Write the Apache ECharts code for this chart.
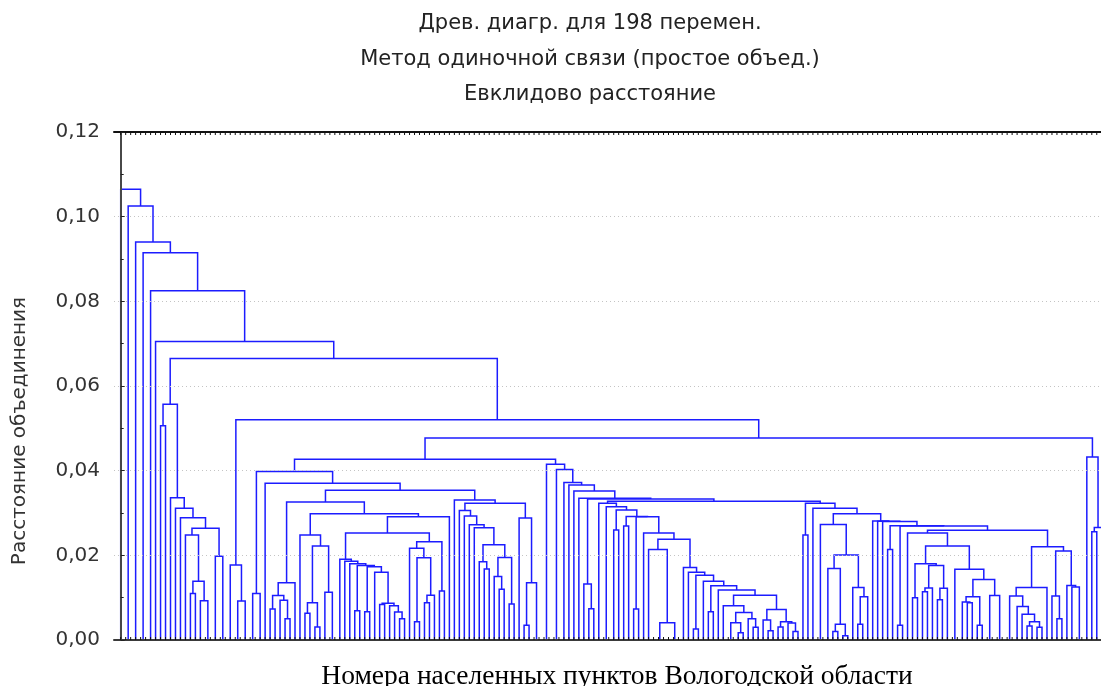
<!DOCTYPE html>
<html>
<head>
<meta charset="utf-8">
<script src="https://cdn.jsdelivr.net/npm/echarts@6/dist/echarts.min.js"></script>
<style>
  html, body { margin: 0; padding: 0; background: #fff; }
  #chart { width: 1101px; height: 686px; }
</style>
</head>
<body>
<div id="chart"></div>
<script>
// Single-linkage dendrogram of 198 settlements, Euclidean distance.
// A join is [distance, left, right]; a leaf is the number of settlements
// that coincide exactly (joined at distance 0).

// Staircase: each step joins one leaf (a height, or [height, leafSize]) to the rest.
function chain(steps, tail) {
  return steps.reduceRight((acc, s) => Array.isArray(s) ? [s[0], s[1], acc] : [s, 1, acc], tail);
}

const outlierSteps = [0.1065, [0.1025, 2], 0.094, [0.0915, 2], 0.0825, 0.0705];

const groupA = [0.0557, [0.0506, 1, 1],
  chain([0.0336, 0.0311, 0.0289],
    [0.0264, [0.0248, 1, [0.0139, [0.011, 1, 1], [0.0093, 1, 2]]], [0.0198, 1, 2]])];

const groupB = [0.0177, 1, [0.0092, 2, 1]];

const group135 = [0.0135, [0.0105, [0.0073, 1, 1], [0.0094, 1, [0.005, 1, 1]]], 1];
const group248 = [0.0248, 1, [0.0222, [0.0088, [0.0063, 1, 1], [0.0031, 1, 1]], [0.0113, 1, 2]]];
const group191 = [0.0191, 1, [0.0186, 1, [0.018, 1, [0.0176, [0.0069, 1, 1],
  [0.0173, [0.0067, 1, 1], [0.016, 1, [0.0087, [0.0084, 1, 1], [0.0081, 1, [0.0066, 1, [0.005, 1, 1]]]]]]]]]];
const group232 = [0.0232, [0.0217, 1, [0.0194, [0.0043, 1, 1], [0.0106, [0.0088, 1, 1], 1]]], [0.0116, 1, 1]];
const group291 = [0.0291, [0.0253, group191, group232], 1];
const group326 = [0.0326, group135, [0.0298, group248, group291]];
const group465 = chain([0.0306, 0.0293, 0.0272, 0.0265],
  [0.0225, [0.0185, 1, [0.0168, 1, 1]], [0.0195, [0.015, 1, [0.012, 1, 1]], [0.0085, 1, 1]]]);
const group288 = [0.0288, 1, [0.0135, [0.0035, 1, 1], 2]];
const group331 = [0.0331, 1, [0.0323, group465, group288]];
const groupC = [0.0398, [0.011, 2, 1], [0.037, 1, [0.0354, group326, group331]]];

const group132 = [0.0132, 1, [0.0074, 1, 1]];
const groupF = [0.0081, 1, [0.0065, [0.0041, 2, [0.0017, 1, 1]], [0.005, 1, [0.003, 1, 1]]]];
const groupG = [0.0072, [0.0047, 1, [0.0022, 1, 1]], [0.0043, [0.0031, 1, 1], [0.004, 1, [0.002, 1, 1]]]];
const group171 = chain([0.0171, 0.016],
  [0.0153, [0.0026, 1, 1], [0.0139, 1, [0.0128, [0.0067, 1, 1], [0.0118, 1, [0.0106, groupF, groupG]]]]]);
const group214 = [0.0214, 1, [0.0041, 3, 3]];
const group253 = [0.0253, 1, [0.0238, group214, group171]];
const groupZ = chain([0.0323, [0.0315, 2]],
  [0.0307, [0.026, 1, 1], [0.0292, [0.0269, 1, 1], [0.0291, [0.0073, 1, 1], group253]]]);

const group273 = [0.0273, 2, [0.0201, [0.0169, 1, [0.0037, [0.002, 1, 1], [0.001, 1, 1]]],
  [0.0124, 1, [0.0102, [0.0037, 1, 1], 1]]]];
const group180 = [0.018, [0.01, 1, 1], [0.0176, [0.0123, [0.0114, 1, 1], 1], [0.0122, [0.0095, 1, 1], 1]]];
const group167 = [0.0167, 2, [0.0143, [0.0102, [0.009, 1, [0.0088, 1, 1]], [0.0035, 1, 1]], [0.0105, 2, 2]]];
const groupR1 = [0.0124, [0.0104, 2, [0.0079, 1, [0.0061, 1, [0.0043, [0.0033, 1, 1], [0.003, 1, 1]]]]], 1];
const groupR2 = [0.021, [0.0104, 1, [0.005, 1, 1]], [0.0129, 1, [0.0125, 1, 2]]];
const groupP = [0.0259, [0.0253, 1, [0.0222, group180, group167]], [0.022, groupR1, groupR2]];
const group281 = chain([0.0281, 0.02805, 0.028],
  [0.027, [0.0214, 1, 1], [0.0269, [0.0035, 1, 1], groupP]]);
const groupW = [0.0323, [0.0248, 1, 1], [0.0311, 1, [0.0298, group273, group281]]];

const groupD = chain([[0.0415, 2], [0.0403, 2], 0.0372, 0.0366, 0.0352],
  [0.0335, 1, [0.0333, group132, [0.0328, groupZ, groupW]]]);
const groupE = [0.0432, 1, [0.0266, [0.0256, 1, 1], 1]];

const tree = chain(outlierSteps,
  [0.0665, groupA, [0.052, groupB, [0.0477, [0.0427, groupC, groupD], groupE]]]);

const yTicks = [0, 0.02, 0.04, 0.06, 0.08, 0.10, 0.12];
const titleLines = ['Древ. диагр. для 198 перемен.', 'Метод одиночной связи (простое объед.)', 'Евклидово расстояние'];
const yTitle = 'Расстояние объединения';
const xTitle = 'Номера населенных пунктов Вологодской области';

// ---- layout: leaves in tree order, one slot per settlement; each join sits above the middle of its branches
const links = [];
const leafSlots = [];
(function () {
  let next = 0;
  function placeLeaf(n) {
    // coinciding settlements: joined pairwise at distance 0
    let cur = { x: next, h: 0 };
    leafSlots.push(next++);
    for (let i = 1; i < n; i++) {
      const x = next++;
      leafSlots.push(x);
      links.push([cur.x, 0, x, 0, 0]);
      cur = { x: (cur.x + x) / 2, h: 0 };
    }
    return cur;
  }
  function visit(n) {
    if (!Array.isArray(n)) return placeLeaf(n);
    const l = visit(n[1]), r = visit(n[2]);
    links.push([l.x, l.h, r.x, r.h, n[0]]);
    return { x: (l.x + r.x) / 2, h: n[0] };
  }
  visit(tree);
})();

// the plot runs on past the right edge of the page; the last settlements fall outside it
const gridLeft = 114, gridTop = 132, gridHeight = 508, gridRight = 0;
const gridWidth = 1101 - gridLeft - gridRight;
const pxPerLeaf = 4.98, firstLeafPx = 120.7;
const xMin = -(firstLeafPx - gridLeft) / pxPerLeaf;
const xMax = xMin + gridWidth / pxPerLeaf;
const sans = '"DejaVu Sans"';

const chart = echarts.init(document.getElementById('chart'), null, { renderer: 'canvas' });
chart.setOption({
  animation: false,
  backgroundColor: '#ffffff',
  grid: { left: gridLeft, top: gridTop, right: gridRight, height: gridHeight, containLabel: false },
  xAxis: [
    { type: 'value', min: xMin, max: xMax, position: 'bottom', z: 5,
      axisLine: { show: true, lineStyle: { color: '#3a3a3a', width: 2 } },
      axisTick: { show: false }, axisLabel: { show: false }, splitLine: { show: false } },
    { type: 'value', min: xMin, max: xMax, position: 'top', z: 5,
      axisLine: { show: true, lineStyle: { color: '#111', width: 2 } },
      axisTick: { show: false }, axisLabel: { show: false }, splitLine: { show: false } }
  ],
  yAxis: {
    type: 'value', min: yTicks[0], max: yTicks[yTicks.length - 1], interval: 0.02, z: 5,
    axisLine: { show: true, lineStyle: { color: '#484848', width: 2 } },
    axisTick: { show: true, inside: true, length: 4, lineStyle: { color: '#222' } },
    minorTick: { show: true, splitNumber: 2, length: 3, lineStyle: { color: '#222' } },
    axisLabel: { margin: 14, color: '#333', fontFamily: 'DejaVu Sans', fontSize: 20,
      formatter: v => v.toFixed(2).replace('.', ',') },
    splitLine: { show: true, lineStyle: { color: '#c4c4c4', type: [1, 3], width: 1 } }
  },
  graphic: [
    ...titleLines.map((t, i) => ({ type: 'text', x: 590, y: 24 + i * 35.5,
      style: { text: t, fill: '#222', font: '21px ' + sans, textAlign: 'center', textVerticalAlign: 'middle' } })),
    { type: 'text', x: 20, y: 431, rotation: Math.PI / 2,
      style: { text: yTitle, fill: '#333', font: '20px ' + sans, textAlign: 'center', textVerticalAlign: 'middle' } },
    { type: 'text', x: 617, y: 677,
      style: { text: xTitle, fill: '#000', font: '27.5px "Liberation Serif"', textAlign: 'center', textVerticalAlign: 'middle' } }
  ],
  series: [
    {
      type: 'custom', name: 'links', xAxisIndex: 0, yAxisIndex: 0,
      data: links, encode: { x: [0, 2], y: [1, 3, 4] }, clip: false,
      renderItem: (params, api) => {
        const a = api.coord([api.value(0), api.value(1)]);
        const b = api.coord([api.value(0), api.value(4)]);
        const c = api.coord([api.value(2), api.value(4)]);
        const d = api.coord([api.value(2), api.value(3)]);
        return { type: 'polyline', shape: { points: [a, b, c, d] },
          style: { stroke: '#1c1cff', lineWidth: 1.5, fill: null } };
      }
    },
    {
      type: 'custom', name: 'leafTicks', xAxisIndex: 0, yAxisIndex: 0,
      data: leafSlots.map(x => [x]), encode: { x: 0 }, clip: false, z: 6,
      renderItem: (params, api) => {
        const p0 = api.coord([api.value(0), yTicks[0]]);
        const pt = api.coord([api.value(0), yTicks[yTicks.length - 1]]);
        return { type: 'group', children: [
          { type: 'line', shape: { x1: p0[0], y1: p0[1], x2: p0[0], y2: p0[1] - 3 }, style: { stroke: '#111', lineWidth: 1 } },
          { type: 'line', shape: { x1: pt[0], y1: pt[1], x2: pt[0], y2: pt[1] + 3 }, style: { stroke: '#111', lineWidth: 1 } }
        ] };
      }
    }
  ]
});
</script>
</body>
</html>
